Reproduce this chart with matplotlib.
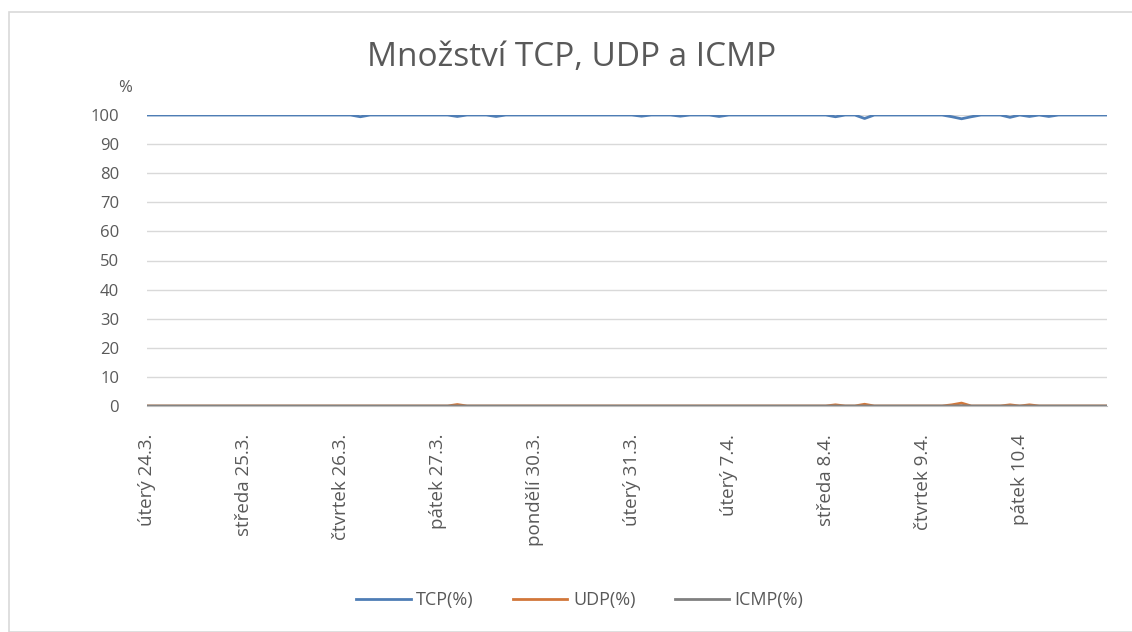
import numpy as np
import matplotlib.pyplot as plt
from matplotlib.patches import Rectangle

plt.rcParams['font.family'] = ['Open Sans', 'DejaVu Sans']

TITLE = "Množství TCP, UDP a ICMP"
N_POINTS = 100
day_labels = ["úterý 24.3.", "středa 25.3.", "čtvrtek 26.3.", "pátek 27.3.", "pondělí 30.3.",
              "úterý 31.3.", "úterý 7.4.", "středa 8.4.", "čtvrtek 9.4.", "pátek 10.4"]
label_every = 10

# dips of TCP share (index -> drop in %)
tcp_dips = {22: 0.6, 32: 0.5, 36: 0.5, 51: 0.4, 55: 0.4, 59: 0.5, 71: 0.6, 74: 1.2,
            83: 0.6, 84: 1.3, 85: 0.6, 89: 0.8, 91: 0.5, 93: 0.5}
# bumps of UDP share
udp_bumps = {32: 0.5, 71: 0.4, 74: 0.6, 83: 0.4, 84: 1.0, 89: 0.4, 91: 0.4}
icmp_bumps = {84: 0.1}

tcp = np.full(N_POINTS, 100.0)
for i, v in tcp_dips.items():
    tcp[i] -= v
udp = np.zeros(N_POINTS)
for i, v in udp_bumps.items():
    udp[i] = v
icmp = np.zeros(N_POINTS)
for i, v in icmp_bumps.items():
    icmp[i] = v

x = np.arange(N_POINTS)
TXT = "#595959"

fig = plt.figure(figsize=(11.32, 6.32), dpi=100)
fig.patches.append(Rectangle((9 / 1132, 0), 1.0, 1 - 12 / 632, transform=fig.transFigure,
                             fill=False, edgecolor="#D9D9D9", linewidth=1.2))
ax = fig.add_axes([147 / 1132, 1 - 406 / 632, 960 / 1132, 291 / 632])

ax.plot(x, tcp, color="#4E7DB5", linewidth=2, label="TCP(%)", solid_joinstyle="round")
ax.plot(x, udp, color="#D2773A", linewidth=2, label="UDP(%)", solid_joinstyle="round")
ax.plot(x, icmp, color="#808080", linewidth=2, label="ICMP(%)", solid_joinstyle="round")

ax.set_xlim(0, N_POINTS - 1)
ax.set_ylim(0, 100)
ax.set_yticks(np.arange(0, 101, 10))
ax.grid(axis="y", color="#D9D9D9", linewidth=1)
ax.set_axisbelow(True)
for s in ["top", "right", "left"]:
    ax.spines[s].set_visible(False)
ax.spines["bottom"].set_color("#BFBFBF")
ax.tick_params(axis="y", length=0, pad=20, labelsize=12, labelcolor=TXT)
ax.set_xticks(x[::label_every])
ax.set_xticklabels(day_labels, rotation=90, va="top", ha="center")
ax.tick_params(axis="x", length=0, pad=20, labelsize=13.5, labelcolor=TXT)

fig.text(125 / 1132, 1 - 88 / 632, "%", ha="center", va="center", fontsize=12, color=TXT)
fig.text(572 / 1132, 1 - 58 / 632, TITLE, ha="center", va="center", fontsize=24, color=TXT)

leg = fig.legend(loc="center", bbox_to_anchor=(580 / 1132, 1 - 600 / 632), ncol=3,
                 frameon=False, fontsize=13, handlelength=3.0, columnspacing=2.2, handletextpad=0.3)
for t in leg.get_texts():
    t.set_color(TXT)

fig.savefig("out.png", dpi=100)
